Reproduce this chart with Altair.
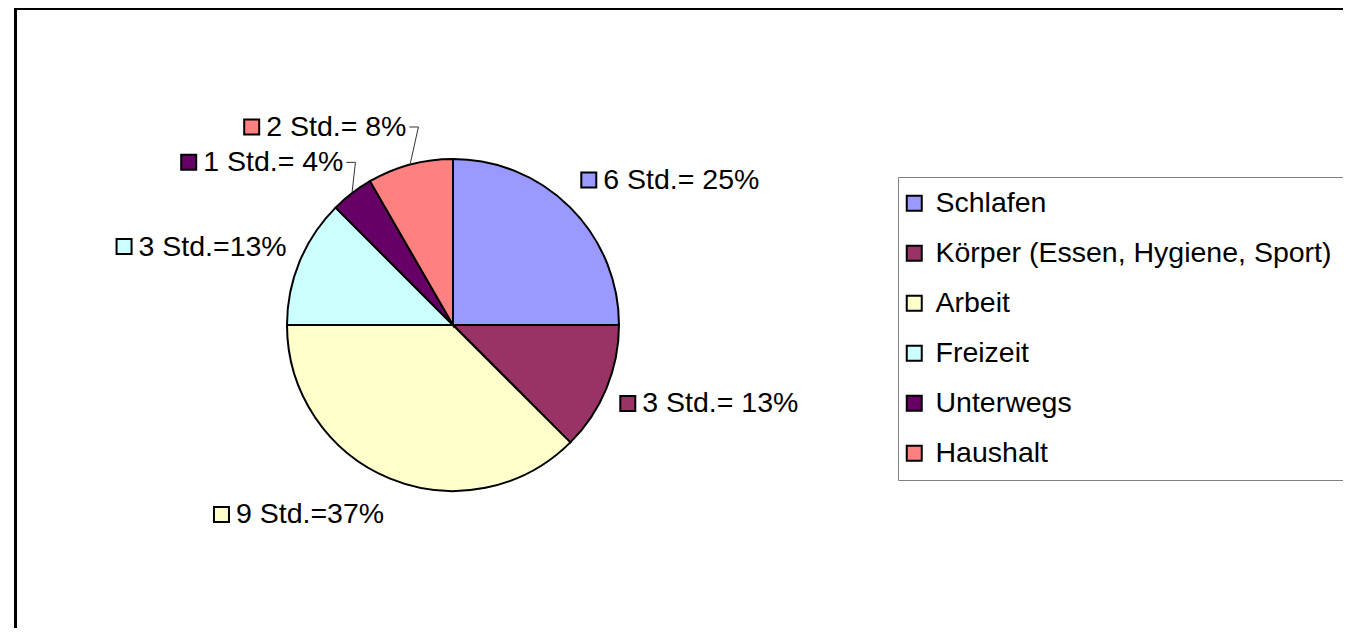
import math
import altair as alt
import pandas as pd

# ---- data ----
categories = ["Schlafen", "Körper (Essen, Hygiene, Sport)", "Arbeit", "Freizeit", "Unterwegs", "Haushalt"]
hours = [6, 3, 9, 3, 1, 2]
label_texts = ["6 Std.= 25%", "3 Std.= 13%", "9 Std.=37%", "3 Std.=13%", "1 Std.= 4%", "2 Std.= 8%"]
colors = ["#9999FF", "#993366", "#FFFFCC", "#CCFFFF", "#660066", "#FF8080"]

# ---- layout / style ----
W, H = 1335, 620
CX, CY = 445, 317          # pie centre inside the plot area
R_PIE = 166
RX_LABEL, RY_LABEL = 180, 205
FONT = "Liberation Sans"
LABEL_FS = 28.5
LEGEND_FS = 28.5
SQ = 15
GAP = 7

# Arial / Liberation Sans advance widths (em) for the label characters
CW = {"0": .556, "1": .556, "2": .556, "3": .556, "4": .556, "5": .556, "6": .556,
      "7": .556, "8": .556, "9": .556, " ": .278, "S": .667, "t": .278, "d": .556,
      ".": .278, "=": .584, "%": .889}


def text_width(s, fs):
    return sum(CW.get(c, .556) for c in s) * fs


df = pd.DataFrame({"cat": categories, "hours": hours, "order": list(range(len(hours))),
                   "label": label_texts})

# label anchors derived from the slice mid angles
total = sum(hours)
cum = 0.0
lab_rows, sq_rows, lead_rows = [], [], []
for i, h in enumerate(hours):
    mid = (cum + h / 2) / total * 2 * math.pi
    cum += h
    s, c = math.sin(mid), math.cos(mid)
    ax, ay = CX + RX_LABEL * s, CY - RY_LABEL * c
    tw = text_width(label_texts[i], LABEL_FS)
    if s >= 0:
        sx = ax + 1 + SQ / 2
        tx = ax + 1 + SQ + GAP
    else:
        tx = ax - tw
        sx = tx - GAP - SQ / 2
    lab_rows.append({"x": tx, "y": ay, "label": label_texts[i]})
    sq_rows.append({"x": sx, "y": ay, "cat": categories[i]})
    if h / total < 0.1:
        ex, ey = CX + R_PIE * s, CY - R_PIE * c
        lead_rows += [{"x": ax + 3, "y": ay, "g": i, "k": 0},
                      {"x": ax + 12, "y": ay, "g": i, "k": 1},
                      {"x": ex, "y": ey, "g": i, "k": 2}]

color_scale = alt.Scale(domain=categories, range=colors)

pie = alt.Chart(df).mark_arc(radius=R_PIE, stroke="black", strokeWidth=2).encode(
    theta=alt.Theta("hours:Q", stack=True),
    order=alt.Order("order:Q"),
    color=alt.Color("cat:N", sort=categories, scale=color_scale,
                    legend=alt.Legend(title=None, orient="none", legendX=890, legendY=169,
                                      symbolType="square", symbolSize=225,
                                      symbolStrokeColor="black", symbolStrokeWidth=2,
                                      symbolOffset=-10,
                                      labelFont=FONT, labelFontSize=LEGEND_FS, labelColor="black",
                                      labelOffset=7, labelLimit=600, rowPadding=21,
                                      padding=12, strokeColor="#808080", fillColor="white")),
    x=alt.value(CX), y=alt.value(CY),
)

squares = alt.Chart(pd.DataFrame(sq_rows)).mark_point(
    shape="square", filled=True, size=SQ * SQ, stroke="black", strokeWidth=2, opacity=1
).encode(
    x=alt.X("x:Q", scale=None), y=alt.Y("y:Q", scale=None),
    fill=alt.Fill("cat:N", scale=color_scale, legend=None),
)

labels = alt.Chart(pd.DataFrame(lab_rows)).mark_text(
    align="left", baseline="middle", font=FONT, fontSize=LABEL_FS, color="black"
).encode(x=alt.X("x:Q", scale=None), y=alt.Y("y:Q", scale=None), text="label:N")

layers = [pie, squares, labels]
if lead_rows:
    leaders = alt.Chart(pd.DataFrame(lead_rows)).mark_line(color="#333333", strokeWidth=1).encode(
        x=alt.X("x:Q", scale=None), y=alt.Y("y:Q", scale=None),
        detail="g:N", order="k:Q")
    layers.append(leaders)

frame_df = pd.DataFrame({"a": [0]})
left_border = alt.Chart(frame_df).mark_rule(color="black", strokeWidth=3).encode(
    x=alt.value(7.5), y=alt.value(0), y2=alt.value(H))
top_border = alt.Chart(frame_df).mark_rule(color="black", strokeWidth=3).encode(
    x=alt.value(6), x2=alt.value(W), y=alt.value(0.5))
layers += [left_border, top_border]

chart = alt.layer(*layers).resolve_scale(color="independent", fill="independent").properties(
    width=W, height=H, padding=0, autosize=alt.AutoSizeParams(type="none"),
    background="white",
).configure_view(stroke=None)

chart.save("out.html", embed_options={"renderer": "svg", "actions": False})
